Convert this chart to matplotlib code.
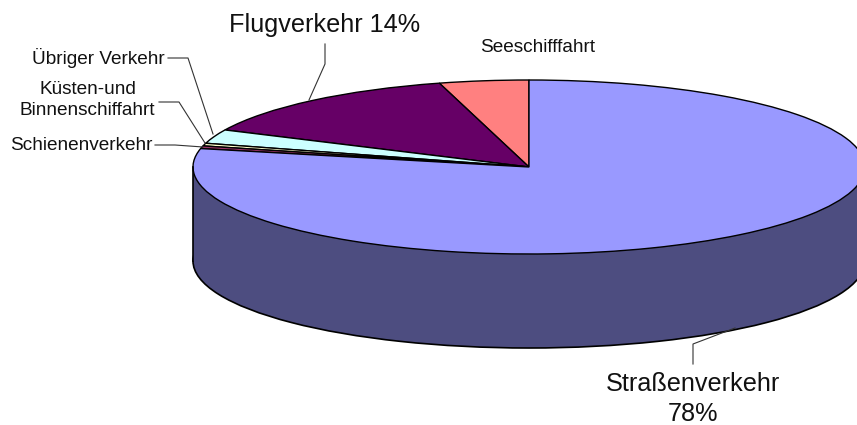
import matplotlib
matplotlib.use("Agg")
import matplotlib.pyplot as plt
from matplotlib.patches import Rectangle

plt.rcParams['font.family'] = ['Liberation Sans', 'DejaVu Sans']

# anticlockwise from 12 o'clock
categories = ['Seeschifffahrt', 'Flugverkehr', 'Übriger Verkehr',
              'Küsten-und Binnenschifffahrt', 'Schienenverkehr', 'Straßenverkehr']
values = [4.3, 13.7, 2.6, 0.5, 0.5, 78.4]
colors = ['#FF8080', '#660066', '#CCFFFF', '#FFFFCC', '#993366', '#9999FF']
side_color = '#4D4D80'

W, H = 857, 425
cx, cy = 529, 167   # pie centre in pixels
rx, ry = 336, 87    # ellipse half axes
depth = 94 / ry     # height of the side wall

fig = plt.figure(figsize=(W / 100, H / 100), dpi=100)
ax = fig.add_axes([0, 0, 1, 1])

# side wall first, top goes over it
ax.pie([1], colors=[side_color], center=(0, -depth), radius=1,
       wedgeprops={'edgecolor': 'black', 'linewidth': 1.2})
ax.add_patch(Rectangle((-1, -depth), 2, depth, facecolor=side_color, edgecolor='none'))
ax.plot([-1, -1], [-depth, 0], color='black', lw=1.2)
ax.plot([1, 1], [-depth, 0], color='black', lw=1.2)

ax.pie(values, colors=colors, startangle=90, counterclock=True, radius=1,
       wedgeprops={'edgecolor': 'black', 'linewidth': 1.0})

# squash the circle to the tilted ellipse
ax.set_aspect('auto')
ax.set_xlim(-cx / rx, (W - cx) / rx)
ax.set_ylim((cy - H) / ry, cy / ry)
ax.axis('off')

# labels and leader lines on a pixel overlay
ov = fig.add_axes([0, 0, 1, 1])
ov.set_xlim(0, W)
ov.set_ylim(H, 0)
ov.axis('off')
ov.patch.set_alpha(0)

ov.text(325, 25, 'Flugverkehr 14%', fontsize=18.2, ha='center', va='center', color='#111111')
ov.text(538, 47, 'Seeschifffahrt', fontsize=13.7, ha='center', va='center', color='#111111')
ov.text(165, 58, 'Übriger Verkehr', fontsize=13.7, ha='right', va='center', color='#111111')
ov.text(87.5, 100, 'Küsten-und\nBinnenschiffahrt', fontsize=13.7, ha='center', va='center',
        linespacing=1.35, color='#111111')
ov.text(153, 146, 'Schienenverkehr', fontsize=13.7, ha='right', va='center', color='#111111')
ov.text(693, 399, 'Straßenverkehr\n78%', fontsize=18.2, ha='center', va='center',
        linespacing=1.3, color='#111111')

leaders = [
    ([168, 188, 213], [58, 58, 134]),
    ([159, 179, 205], [102, 102, 143]),
    ([155, 175, 203], [145, 145, 147]),
    ([325, 325, 309], [44, 64, 100]),
    ([693, 693, 735], [364, 344, 328]),
]
for xs, ys in leaders:
    ov.plot(xs, ys, color='#333333', lw=0.8)

fig.savefig('out.png', dpi=100)
